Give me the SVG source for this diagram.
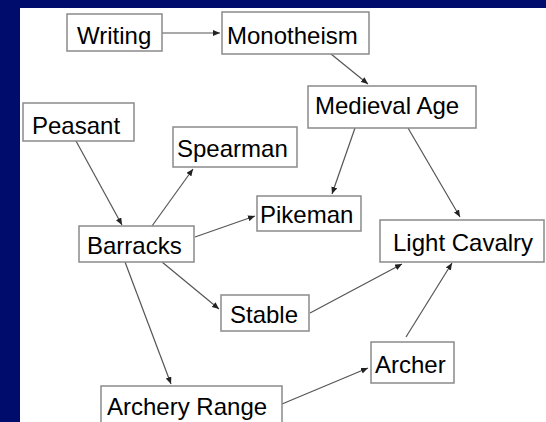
<svg xmlns="http://www.w3.org/2000/svg" width="546" height="422" viewBox="0 0 546 422">
<style>
.node rect{fill:#fff;stroke:#8a8a8a;stroke-width:1.5}
.node text{font-family:"Liberation Sans",Arial,sans-serif;font-size:24px;fill:#000}
.edge{stroke:#555;stroke-width:1.2;fill:none;marker-end:url(#ah)}
</style>
<defs>
<marker id="ah" markerUnits="userSpaceOnUse" markerWidth="8" markerHeight="6" refX="7" refY="3" orient="auto">
<path d="M0,0 L7,3 L0,6 z" fill="#222"/>
</marker>
</defs>
<rect x="0" y="0" width="546" height="422" fill="#000c6c"/>
<rect x="20" y="8" width="526" height="414" fill="#fff"/>
<g id="connectors">
<line class="edge" x1="162" y1="33" x2="220" y2="33"/>
<line class="edge" x1="331" y1="54" x2="368" y2="84"/>
<line class="edge" x1="355" y1="128" x2="332" y2="194"/>
<line class="edge" x1="408" y1="128" x2="460" y2="217"/>
<line class="edge" x1="76" y1="141" x2="122" y2="225"/>
<line class="edge" x1="152" y1="226" x2="193" y2="169"/>
<line class="edge" x1="195" y1="237" x2="255" y2="216"/>
<line class="edge" x1="162" y1="262" x2="219" y2="309"/>
<line class="edge" x1="125" y1="262" x2="171" y2="384"/>
<line class="edge" x1="310" y1="313" x2="402" y2="264"/>
<line class="edge" x1="282" y1="404" x2="368" y2="368"/>
<line class="edge" x1="406" y1="337" x2="452" y2="263"/>
</g>
<g id="writing" class="node"><rect x="67" y="14" width="95" height="37"/><text x="77" y="44">Writing</text></g>
<g id="monotheism" class="node"><rect x="222" y="12" width="147" height="42"/><text x="227" y="44">Monotheism</text></g>
<g id="medieval" class="node"><rect x="308" y="86" width="168" height="42"/><text x="315" y="114">Medieval Age</text></g>
<g id="peasant" class="node"><rect x="23" y="103" width="111" height="38"/><text x="32" y="134">Peasant</text></g>
<g id="spearman" class="node"><rect x="173" y="127" width="124" height="40"/><text x="177" y="157">Spearman</text></g>
<g id="pikeman" class="node"><rect x="257" y="196" width="104" height="35"/><text x="260" y="223">Pikeman</text></g>
<g id="barracks" class="node"><rect x="79" y="226" width="115" height="36"/><text x="87" y="254">Barracks</text></g>
<g id="lightcavalry" class="node"><rect x="380" y="220" width="164" height="42"/><text x="393" y="251">Light Cavalry</text></g>
<g id="stable" class="node"><rect x="221" y="295" width="88" height="36"/><text x="230" y="323">Stable</text></g>
<g id="archer" class="node"><rect x="371" y="342" width="83" height="41"/><text x="375" y="373">Archer</text></g>
<g id="archeryrange" class="node"><rect x="101" y="386" width="181" height="40"/><text x="107" y="415">Archery Range</text></g>
</svg>
